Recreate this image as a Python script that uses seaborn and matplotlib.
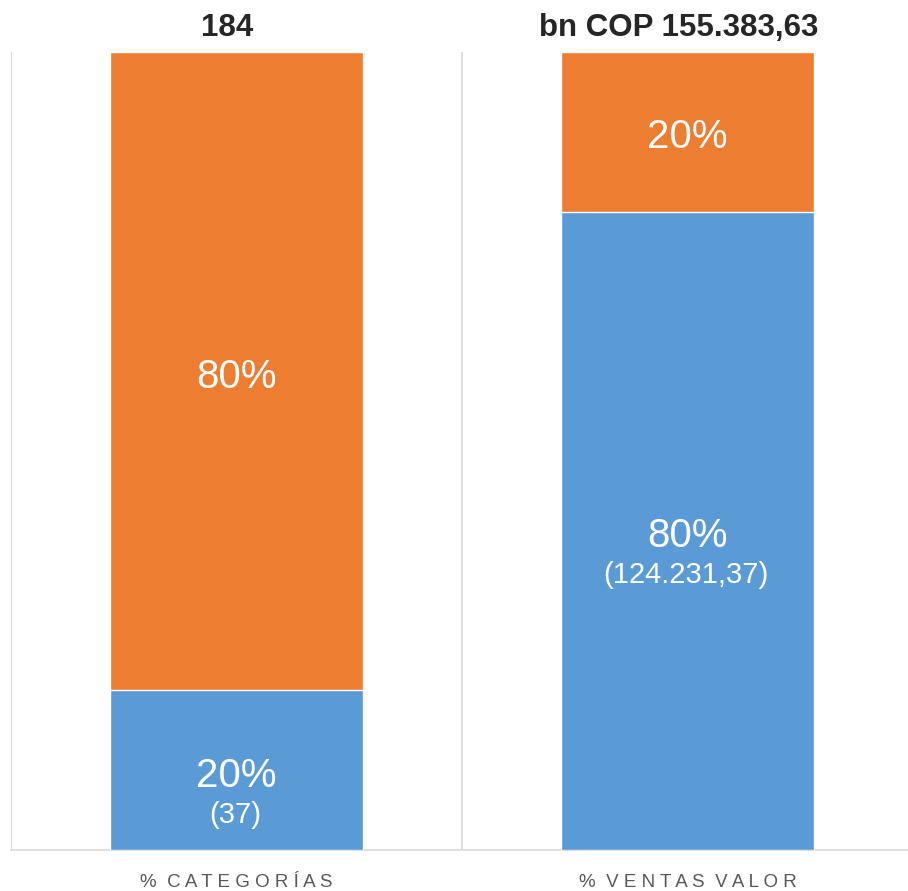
import matplotlib.pyplot as plt
import seaborn as sns
import pandas as pd
from matplotlib.transforms import blended_transform_factory

# datos
categorias = ["% CATEGORÍAS", "% VENTAS VALOR"]
top_20 = [20, 80]
resto_80 = [80, 20]
totales = ["184", "bn COP 155.383,63"]
detalle_top = ["(37)", "(124.231,37)"]

azul = "#5B9BD5"
naranja = "#ED7D31"


def espaciar(texto):
    # simula el espaciado entre letras del original
    return "  ".join(" ".join(palabra) for palabra in texto.split(" "))


df = pd.DataFrame({"categoria": categorias, "top": top_20, "resto": resto_80})
df["total"] = df["top"] + df["resto"]

sns.set_style("white")
plt.rcParams["font.family"] = ["Liberation Sans", "DejaVu Sans"]

fig = plt.figure(figsize=(9.08, 8.91), dpi=100)
ax = fig.add_axes([11 / 908, 1 - 850 / 891, 902 / 908, 798 / 891])

sns.barplot(data=df, x="categoria", y="total", color=naranja, width=0.56,
            saturation=1, ax=ax, zorder=2)
sns.barplot(data=df, x="categoria", y="top", color=azul, width=0.56,
            saturation=1, ax=ax, zorder=3)

ax.set_ylim(0, 100)
ax.set_xlim(-0.5, 1.5)
ax.set_yticks([])
ax.set_xlabel("")
ax.set_ylabel("")
ax.set_xticks(range(len(categorias)))
ax.set_xticklabels([espaciar(c) for c in categorias], fontsize=13.5, color="#595959")
ax.tick_params(axis="x", length=0, pad=17)

# lineas verticales entre categorias
for xv in [-0.5, 0.5, 1.5]:
    ax.axvline(xv, color="#D9D9D9", lw=1.2, zorder=1)

for s in ["top", "right", "left"]:
    ax.spines[s].set_visible(False)
ax.spines["bottom"].set_color("#D9D9D9")
ax.spines["bottom"].set_linewidth(1.2)

for i in range(len(categorias)):
    # segmento azul
    yc = top_20[i] / 2
    ax.annotate(f"{top_20[i]}%", (i, yc), xytext=(0, -4), textcoords="offset points",
                ha="center", va="center", color="white", fontsize=29, zorder=5)
    ax.annotate(detalle_top[i], (i, yc), xytext=(-1, -32), textcoords="offset points",
                ha="center", va="center", color="white", fontsize=21, zorder=5)
    # segmento naranja
    yc2 = top_20[i] + resto_80[i] / 2
    ax.annotate(f"{resto_80[i]}%", (i, yc2), xytext=(0, -4), textcoords="offset points",
                ha="center", va="center", color="white", fontsize=29, zorder=5)

trans = blended_transform_factory(ax.transData, fig.transFigure)
for i, t in enumerate(totales):
    ax.text(i - 0.02, 1 - 28 / 891, t, transform=trans, ha="center", va="center",
            fontsize=22.5, fontweight="bold", color="#262626")

fig.savefig("out.png", dpi=100)
